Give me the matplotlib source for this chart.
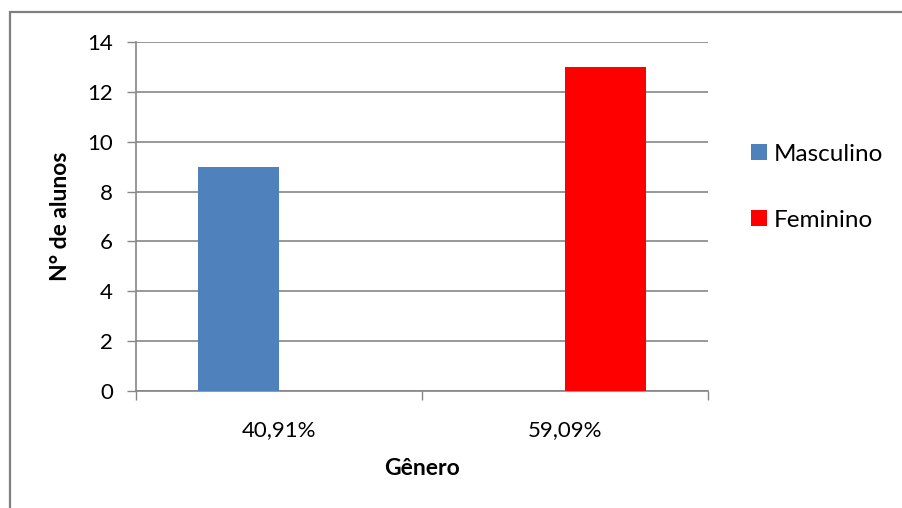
import matplotlib.pyplot as plt
from matplotlib.patches import Rectangle
import numpy as np

categories = ['40,91%', '59,09%']
masculino = [9, 0]
feminino = [0, 13]
yticks = [0, 2, 4, 6, 8, 10, 12, 14]

plt.rcParams['font.family'] = ['Lato', 'DejaVu Sans']

fig = plt.figure(figsize=(9.02, 5.08), dpi=100)
ax = fig.add_axes([136 / 902, 1 - 391 / 508, 572 / 902, 349 / 508])

x = np.arange(len(categories))
w = 0.283
ax.bar(x - w / 2, masculino, w, color='#4F81BD', label='Masculino', zorder=3)
ax.bar(x + w / 2, feminino, w, color='#FF0000', label='Feminino', zorder=3)

ax.set_xlim(-0.5, 1.5)
ax.set_ylim(0, 14)
ax.set_yticks(yticks)
ax.yaxis.grid(True, color='#868686', linewidth=1.2, zorder=0)
ax.tick_params(axis='y', length=6.5, width=1, color='#868686', labelsize=16, pad=10)

ax.set_xticks([-0.5, 0.5, 1.5])
ax.set_xticklabels([])
ax.set_xticks(x, minor=True)
ax.set_xticklabels(categories, minor=True)
ax.tick_params(axis='x', which='major', length=6.5, width=1, color='#868686')
ax.tick_params(axis='x', which='minor', length=0, labelsize=16, pad=21)

for s in ['top', 'right']:
    ax.spines[s].set_visible(False)
for s in ['left', 'bottom']:
    ax.spines[s].set_color('#868686')
    ax.spines[s].set_linewidth(1.2)

ax.set_ylabel('N° de alunos', fontsize=16.5, fontweight='bold', labelpad=12)
ax.set_xlabel('Gênero', fontsize=16.5, fontweight='bold', labelpad=13)

fig.legend(loc='upper left', bbox_to_anchor=(729 / 902, 1 - 122 / 508), frameon=False,
           fontsize=17.5, handlelength=0.65, handleheight=0.65, handletextpad=0.3,
           labelspacing=1.85)

fig.patches.append(Rectangle((10 / 902, -0.1), 1.2, 1.1 - 12 / 508, transform=fig.transFigure,
                             fill=False, edgecolor='#7f7f7f', linewidth=1.6))

fig.savefig('out.png', dpi=100)
